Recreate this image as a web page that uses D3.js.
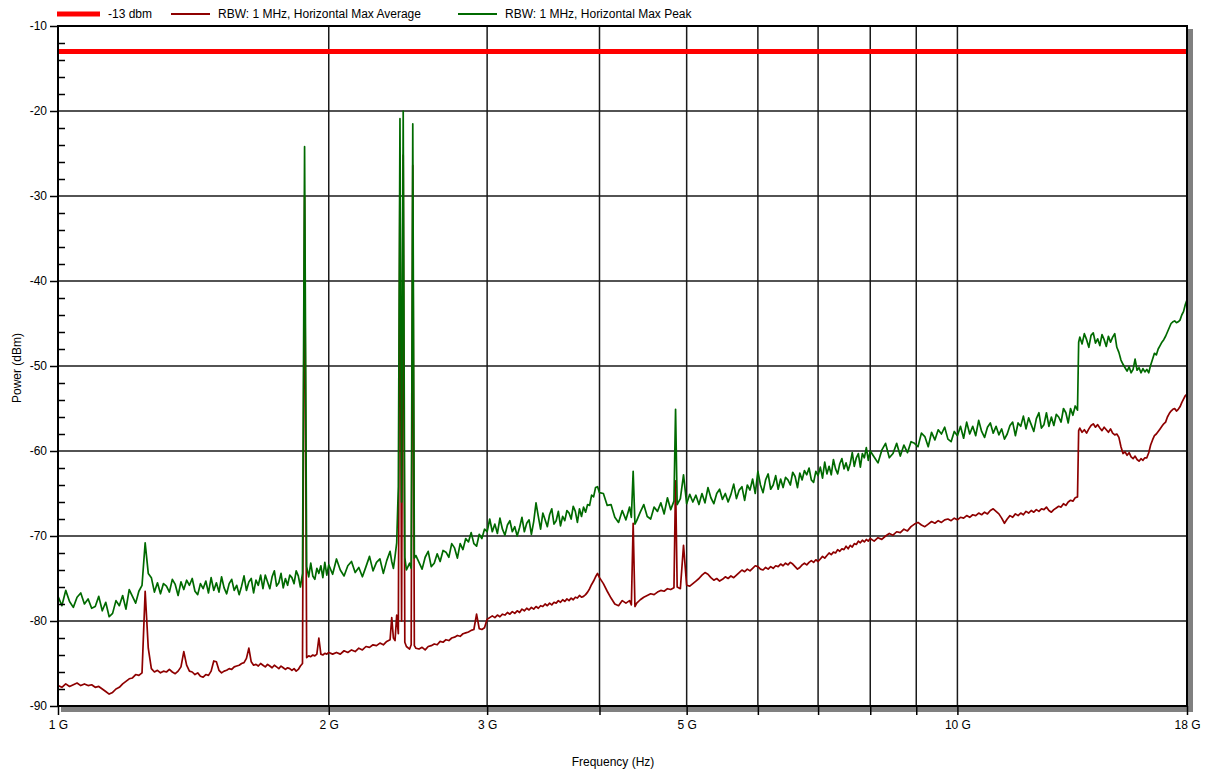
<!DOCTYPE html>
<html>
<head>
<meta charset="utf-8">
<script src="https://cdn.jsdelivr.net/npm/d3@7"></script>
<style>
  html, body { margin: 0; padding: 0; background: #fff; }
  svg { display: block; }
  text { font-family: "Liberation Sans", Arial, sans-serif; fill: #000; }
</style>
</head>
<body>
<svg id="chart" width="1206" height="773"></svg>
<script>
// Sweep frequencies (GHz) shared by both traces
const freqGHz = [
  1.00,1.01,1.02,1.03,1.04,1.05,1.06,1.07,1.08,1.09,
  1.10,1.11,1.12,1.13,1.14,1.15,1.16,1.17,1.18,1.19,
  1.20,1.21,1.22,1.23,1.24,1.25,1.26,1.27,1.28,1.29,
  1.30,1.31,1.32,1.33,1.34,1.35,1.36,1.37,1.38,1.39,
  1.40,1.41,1.42,1.43,1.44,1.45,1.46,1.47,1.48,1.49,
  1.50,1.51,1.52,1.53,1.54,1.55,1.56,1.57,1.58,1.59,
  1.60,1.61,1.62,1.63,1.64,1.65,1.66,1.67,1.68,1.69,
  1.70,1.71,1.72,1.73,1.74,1.75,1.76,1.77,1.78,1.79,
  1.80,1.81,1.82,1.83,1.84,1.85,1.86,1.87,1.88,1.89,
  1.90,1.91,1.92,1.93,1.94,1.95,1.96,1.97,1.98,1.99,
  2.00,2.02,2.04,2.06,2.08,2.10,2.12,2.14,2.16,2.18,
  2.20,2.22,2.24,2.26,2.28,2.30,2.32,2.34,2.35,2.36,
  2.37,2.38,2.39,2.40,2.41,2.42,2.43,2.44,2.46,2.47,
  2.48,2.49,2.50,2.52,2.54,2.56,2.58,2.60,2.62,2.64,
  2.66,2.68,2.70,2.72,2.74,2.76,2.78,2.80,2.82,2.84,
  2.86,2.88,2.90,2.92,2.94,2.96,2.98,3.00,3.02,3.04,
  3.06,3.08,3.10,3.12,3.14,3.16,3.18,3.20,3.22,3.24,
  3.26,3.28,3.30,3.32,3.34,3.36,3.38,3.40,3.42,3.44,
  3.46,3.48,3.50,3.52,3.54,3.56,3.58,3.60,3.62,3.64,
  3.66,3.68,3.70,3.72,3.74,3.76,3.78,3.80,3.82,3.84,
  3.86,3.88,3.90,3.92,3.94,3.96,3.98,4.00,4.04,4.08,
  4.12,4.16,4.20,4.24,4.28,4.32,4.34,4.36,4.38,4.40,
  4.44,4.48,4.52,4.56,4.60,4.64,4.68,4.72,4.76,4.80,
  4.84,4.86,4.88,4.92,4.96,5.00,5.04,5.08,5.12,5.16,
  5.20,5.24,5.28,5.32,5.36,5.40,5.44,5.48,5.52,5.56,
  5.60,5.64,5.68,5.72,5.76,5.80,5.84,5.88,5.92,5.96,
  6.00,6.04,6.08,6.12,6.16,6.20,6.24,6.28,6.32,6.36,
  6.40,6.44,6.48,6.52,6.56,6.60,6.64,6.68,6.72,6.76,
  6.80,6.84,6.88,6.92,6.96,7.00,7.04,7.08,7.12,7.16,
  7.20,7.24,7.28,7.32,7.36,7.40,7.44,7.48,7.52,7.56,
  7.60,7.64,7.68,7.72,7.76,7.80,7.84,7.88,7.92,7.96,
  8.00,8.08,8.16,8.24,8.32,8.40,8.48,8.56,8.64,8.72,
  8.80,8.88,8.96,9.04,9.12,9.20,9.28,9.36,9.44,9.52,
  9.60,9.68,9.76,9.84,9.92,10.00,10.08,10.16,10.24,10.32,
  10.40,10.48,10.56,10.64,10.72,10.80,10.88,10.96,11.04,11.12,
  11.20,11.28,11.36,11.44,11.52,11.60,11.68,11.76,11.84,11.92,
  12.00,12.08,12.16,12.24,12.32,12.40,12.48,12.56,12.64,12.72,
  12.80,12.88,12.96,13.04,13.12,13.20,13.28,13.36,13.44,13.52,
  13.60,13.64,13.68,13.76,13.84,13.92,14.00,14.08,14.16,14.24,
  14.32,14.40,14.48,14.56,14.64,14.72,14.80,14.88,14.96,15.04,
  15.12,15.20,15.28,15.36,15.44,15.52,15.60,15.68,15.76,15.84,
  15.92,16.00,16.08,16.16,16.24,16.32,16.40,16.48,16.56,16.64,
  16.72,16.80,16.88,16.96,17.04,17.12,17.20,17.28,17.36,17.44,
  17.52,17.60,17.68,17.76,17.84,17.92,18.00
];

// RBW 1 MHz, horizontal, max average (dBm)
const avgDbm = [
  -87.6,-87.8,-87.4,-87.7,-87.5,-87.3,-87.6,-87.4,-87.6,-87.5,
  -87.8,-87.7,-88.0,-88.3,-88.6,-88.4,-88.0,-87.8,-87.4,-87.1,
  -86.8,-86.7,-86.3,-86.4,-86.1,-76.5,-83.2,-85.6,-86.0,-85.8,
  -86.1,-85.9,-86.0,-85.7,-86.0,-86.2,-85.9,-85.4,-83.6,-85.2,
  -85.9,-86.0,-86.3,-86.1,-86.5,-86.6,-86.3,-86.4,-85.9,-84.7,
  -84.8,-85.8,-86.1,-85.9,-85.8,-85.6,-85.7,-85.4,-85.3,-85.2,
  -85.0,-84.9,-84.4,-83.2,-84.8,-85.2,-85.1,-85.3,-85.0,-85.2,
  -85.4,-85.1,-85.3,-85.5,-85.2,-85.4,-85.6,-85.3,-85.5,-85.7,
  -85.5,-85.6,-85.8,-85.6,-85.9,-85.7,-85.3,-85.0,-30.0,-84.3,
  -84.1,-84.2,-84.0,-84.1,-83.9,-82.0,-83.9,-84.0,-83.8,-83.9,
  -83.7,-83.9,-83.7,-83.9,-83.5,-83.7,-83.4,-83.6,-83.2,-83.4,
  -83.0,-83.1,-82.8,-82.9,-82.6,-82.8,-82.4,-82.2,-79.6,-82.0,
  -82.3,-79.3,-81.5,-26.0,-80.0,-25.2,-82.5,-83.0,-83.3,-82.8,
  -26.4,-82.9,-83.2,-83.3,-83.1,-83.4,-83.0,-82.9,-82.7,-82.8,
  -82.4,-82.5,-82.2,-82.3,-82.0,-81.9,-81.7,-81.8,-81.5,-81.4,
  -81.3,-81.1,-81.0,-79.2,-80.9,-81.0,-80.8,-79.8,-79.6,-79.4,
  -79.6,-79.3,-79.5,-79.2,-79.3,-79.0,-79.2,-78.9,-79.1,-78.8,
  -79.0,-78.6,-78.8,-78.5,-78.7,-78.4,-78.6,-78.3,-78.5,-78.2,
  -78.3,-78.0,-78.2,-77.9,-78.1,-77.8,-77.9,-77.6,-77.8,-77.5,
  -77.7,-77.4,-77.6,-77.3,-77.5,-77.2,-77.3,-77.0,-77.2,-77.1,
  -76.9,-76.6,-76.2,-75.7,-75.3,-74.8,-74.4,-74.9,-75.6,-76.5,
  -77.3,-78.0,-78.2,-77.6,-77.9,-77.6,-78.1,-68.5,-78.3,-77.9,
  -77.5,-77.2,-77.0,-76.8,-76.9,-76.6,-76.4,-76.5,-76.2,-76.3,
  -76.1,-63.5,-76.0,-76.2,-71.1,-75.8,-75.9,-75.6,-75.3,-75.0,
  -74.6,-74.3,-74.5,-74.9,-75.2,-75.0,-75.3,-75.1,-74.8,-75.0,
  -74.7,-74.9,-74.6,-74.3,-74.0,-74.2,-73.9,-74.1,-73.8,-73.5,
  -73.6,-73.9,-74.0,-73.7,-73.9,-73.6,-73.8,-73.5,-73.6,-73.3,
  -73.5,-73.2,-73.4,-73.1,-73.3,-73.6,-73.9,-73.7,-73.4,-73.2,
  -73.4,-73.1,-72.9,-73.1,-72.8,-73.0,-72.7,-72.4,-72.6,-72.3,
  -72.0,-72.2,-71.9,-72.0,-71.6,-71.8,-71.5,-71.6,-71.2,-71.5,
  -71.1,-71.3,-70.9,-71.0,-70.6,-70.8,-70.5,-70.7,-70.4,-70.6,
  -70.3,-70.6,-70.2,-70.4,-70.0,-69.7,-69.9,-69.5,-69.6,-69.2,
  -69.4,-68.9,-68.6,-68.4,-68.7,-68.9,-68.6,-68.3,-68.5,-68.2,
  -68.4,-68.1,-68.0,-68.2,-67.9,-68.1,-67.8,-67.9,-67.6,-67.8,
  -67.5,-67.6,-67.3,-67.5,-67.2,-67.4,-67.0,-66.8,-67.1,-67.4,
  -67.9,-68.5,-68.0,-67.6,-67.8,-67.4,-67.6,-67.3,-67.5,-67.1,
  -67.3,-67.0,-67.2,-66.9,-67.1,-66.8,-66.9,-66.6,-67.0,-67.2,
  -66.9,-66.7,-66.5,-66.6,-66.2,-66.4,-66.0,-65.8,-65.9,-65.5,
  -65.4,-57.6,-57.3,-57.8,-57.5,-57.9,-57.4,-57.0,-56.8,-57.2,
  -56.9,-57.3,-57.6,-57.2,-57.5,-57.8,-57.4,-57.9,-58.1,-58.0,
  -58.4,-59.5,-60.3,-60.1,-60.5,-60.2,-60.7,-60.9,-60.6,-61.0,
  -61.2,-60.9,-61.1,-60.8,-60.8,-60.2,-59.3,-58.7,-58.2,-58.0,
  -57.7,-57.4,-57.1,-56.8,-56.6,-56.0,-55.6,-55.3,-55.1,-55.0,
  -55.3,-55.1,-54.8,-54.3,-53.9,-53.5,-53.3
];

// RBW 1 MHz, horizontal, max peak (dBm)
const peakDbm = [
  -77.1,-78.2,-76.4,-77.7,-78.4,-77.2,-76.7,-78.0,-77.4,-78.5,
  -78.3,-77.1,-78.8,-77.8,-79.5,-79.1,-77.6,-78.2,-77.0,-78.6,
  -76.3,-77.1,-77.9,-76.5,-75.8,-70.8,-74.4,-74.9,-76.6,-75.5,
  -76.8,-75.6,-75.9,-76.6,-75.1,-75.7,-77.0,-75.4,-76.3,-75.2,
  -75.8,-75.0,-76.5,-76.9,-75.6,-76.2,-75.3,-76.7,-74.9,-76.4,
  -75.5,-76.6,-74.8,-76.1,-76.8,-75.6,-75.1,-76.4,-75.8,-76.9,
  -75.9,-74.7,-76.4,-75.4,-75.0,-76.7,-75.2,-75.8,-74.6,-76.2,
  -74.6,-75.4,-76.2,-74.8,-74.1,-75.9,-75.5,-74.4,-76.1,-75.0,
  -75.8,-74.6,-74.9,-75.6,-74.1,-74.7,-76.0,-74.4,-24.2,-73.6,
  -74.8,-73.2,-74.7,-75.1,-73.8,-74.4,-73.5,-74.9,-73.1,-74.6,
  -73.4,-74.5,-72.7,-74.0,-74.7,-73.5,-73.0,-74.3,-73.7,-74.8,
  -73.6,-72.4,-74.1,-73.1,-72.7,-74.4,-72.9,-71.8,-73.0,-73.8,
  -72.4,-70.8,-64.2,-20.9,-66.0,-20.0,-72.5,-74.0,-73.2,-73.8,
  -21.5,-72.6,-72.3,-73.1,-73.9,-72.5,-71.8,-73.6,-73.2,-72.1,
  -73.0,-71.7,-71.9,-72.5,-70.9,-71.4,-72.6,-70.9,-71.6,-70.3,
  -70.7,-69.6,-70.9,-71.2,-69.8,-70.3,-69.2,-69.5,-68.0,-69.5,
  -68.6,-69.7,-67.9,-69.2,-69.9,-68.7,-68.2,-69.5,-68.9,-70.0,
  -69.0,-67.8,-69.5,-68.5,-68.1,-69.8,-68.3,-66.1,-67.7,-69.2,
  -67.3,-68.1,-68.9,-67.5,-66.8,-68.6,-68.2,-67.1,-68.8,-67.7,
  -68.2,-67.0,-67.3,-68.0,-66.5,-67.1,-68.4,-66.8,-67.7,-66.6,
  -67.2,-66.3,-66.4,-65.2,-65.4,-64.3,-64.2,-64.9,-65.0,-66.4,
  -66.3,-67.8,-68.4,-67.0,-68.1,-66.6,-67.8,-62.4,-68.6,-68.2,
  -67.2,-66.3,-67.7,-68.0,-66.6,-67.1,-66.1,-67.4,-65.5,-66.9,
  -65.9,-55.1,-66.3,-65.6,-62.8,-66.2,-65.1,-66.0,-65.2,-66.3,
  -65.0,-66.1,-64.3,-65.5,-66.2,-65.0,-64.5,-65.7,-65.0,-66.0,
  -65.1,-63.9,-65.6,-64.6,-64.2,-65.8,-64.0,-64.6,-63.3,-65.0,
  -62.4,-64.0,-64.9,-63.4,-62.7,-64.5,-64.0,-62.9,-64.5,-63.3,
  -64.3,-63.1,-63.4,-64.0,-62.5,-63.0,-64.3,-62.6,-63.4,-62.3,
  -62.8,-62.0,-63.4,-63.7,-62.4,-62.9,-61.9,-63.2,-61.3,-62.7,
  -61.8,-62.8,-61.0,-62.1,-62.7,-61.5,-60.9,-62.1,-61.4,-62.3,
  -61.5,-60.2,-61.8,-60.8,-60.3,-61.9,-60.3,-60.8,-59.6,-61.1,
  -60.0,-60.7,-61.4,-59.9,-59.1,-60.8,-60.3,-59.1,-60.6,-59.3,
  -60.2,-58.9,-59.1,-59.5,-57.9,-58.3,-59.5,-57.8,-58.7,-57.5,
  -58.0,-57.2,-58.6,-58.9,-57.7,-58.2,-57.1,-58.5,-56.6,-58.0,
  -57.1,-58.2,-56.4,-57.7,-58.4,-57.2,-56.7,-57.9,-57.1,-58.1,
  -57.4,-58.6,-58.0,-57.0,-56.6,-58.2,-56.7,-57.1,-55.9,-57.4,
  -56.1,-56.9,-57.7,-56.2,-55.5,-57.3,-56.9,-55.5,-57.1,-56.0,
  -57.0,-55.7,-56.0,-56.6,-55.0,-55.5,-56.7,-55.0,-55.8,-54.7,
  -55.2,-47.2,-46.6,-47.4,-46.2,-46.9,-47.8,-46.4,-46.1,-47.3,
  -46.8,-47.6,-46.3,-46.9,-47.7,-46.5,-47.2,-46.6,-46.2,-47.8,
  -48.4,-49.3,-49.8,-50.2,-50.6,-50.1,-50.8,-50.4,-49.2,-50.5,
  -50.2,-50.8,-50.3,-50.7,-50.4,-50.8,-49.9,-49.2,-48.5,-48.7,
  -48.0,-47.6,-47.2,-46.9,-46.5,-46.0,-45.5,-45.0,-44.8,-44.7,
  -44.9,-44.8,-44.6,-44.0,-43.6,-42.8,-42.2
];

// Limit line and axis ticks
const limitDbm = -13;
const yMajorTicks = [-90, -80, -70, -60, -50, -40, -30, -20, -10];
const yMinorTicks = [-88,-86,-84,-82,-78,-76,-74,-72,-68,-66,-64,-62,-58,-56,-54,-52,
                     -48,-46,-44,-42,-38,-36,-34,-32,-28,-26,-24,-22,-18,-16,-14,-12];
const xTickValues = [1, 2, 3, 4, 5, 6, 7, 8, 9, 10, 18];
const xTickLabels = { 1: "1 G", 2: "2 G", 3: "3 G", 5: "5 G", 10: "10 G", 18: "18 G" };
const seriesNames = ["-13 dbm", "RBW: 1 MHz, Horizontal Max Average", "RBW: 1 MHz, Horizontal Max Peak"];
const seriesColors = ["#ff0000", "#8e0000", "#006a00"];

const svg = d3.select("#chart");
const plot = { left: 58, right: 1187, top: 26, bottom: 706 };

const x = d3.scaleLog().domain([1, 18]).range([plot.left, plot.right]);
const y = d3.scaleLinear().domain([-90, -10]).range([plot.bottom, plot.top]);

// drop shadow behind the plot frame
svg.append("rect")
  .attr("x", plot.left + 3).attr("y", plot.top + 3)
  .attr("width", plot.right - plot.left + 3).attr("height", plot.bottom - plot.top + 3)
  .attr("fill", "#808080");
svg.append("rect")
  .attr("x", plot.left).attr("y", plot.top)
  .attr("width", plot.right - plot.left).attr("height", plot.bottom - plot.top)
  .attr("fill", "#fff");

// grid
const grid = svg.append("g");
grid.selectAll("line.h").data(yMajorTicks.filter(d => d > -90 && d < -10)).join("line")
  .attr("x1", plot.left).attr("x2", plot.right)
  .attr("y1", d => y(d)).attr("y2", d => y(d))
  .attr("stroke", "#1a1a1a").attr("stroke-width", 1.5);
grid.selectAll("line.v").data(xTickValues.filter(d => d > 1 && d < 18)).join("line")
  .attr("y1", plot.top).attr("y2", plot.bottom)
  .attr("x1", d => x(d)).attr("x2", d => x(d))
  .attr("stroke", "#1a1a1a").attr("stroke-width", 1.5);

// traces
const avgPts = freqGHz.map((f, i) => [f, avgDbm[i]]);
const peakPts = freqGHz.map((f, i) => [f, peakDbm[i]]);
const line = d3.line().x(d => x(d[0])).y(d => y(d[1]));

svg.append("clipPath").attr("id", "plotClip").append("rect")
  .attr("x", plot.left).attr("y", plot.top)
  .attr("width", plot.right - plot.left).attr("height", plot.bottom - plot.top);

const traces = svg.append("g").attr("clip-path", "url(#plotClip)");
traces.append("path").datum(avgPts).attr("d", line)
  .attr("fill", "none").attr("stroke", seriesColors[1]).attr("stroke-width", 1.7)
  .attr("stroke-linejoin", "round");
traces.append("path").datum(peakPts).attr("d", line)
  .attr("fill", "none").attr("stroke", seriesColors[2]).attr("stroke-width", 1.7)
  .attr("stroke-linejoin", "round");

// -13 dBm limit line
svg.append("line")
  .attr("x1", plot.left).attr("x2", plot.right)
  .attr("y1", y(limitDbm)).attr("y2", y(limitDbm))
  .attr("stroke", seriesColors[0]).attr("stroke-width", 5);

// frame
svg.append("rect")
  .attr("x", plot.left).attr("y", plot.top)
  .attr("width", plot.right - plot.left).attr("height", plot.bottom - plot.top)
  .attr("fill", "none").attr("stroke", "#000").attr("stroke-width", 2);

// y axis: major ticks outside with labels, minor ticks inside
const yAxis = svg.append("g").attr("transform", `translate(${plot.left},0)`)
  .call(d3.axisLeft(y).tickValues(yMajorTicks).tickSize(8).tickPadding(3).tickFormat(d => String(d)));
yAxis.select(".domain").remove();
yAxis.selectAll("line").attr("stroke", "#000").attr("stroke-width", 1.5);
yAxis.selectAll("text").attr("font-size", 12).attr("font-family", "Liberation Sans, Arial, sans-serif").attr("fill", "#000");

const yMinor = svg.append("g").attr("transform", `translate(${plot.left},0)`)
  .call(d3.axisRight(y).tickValues(yMinorTicks).tickSize(7).tickFormat(""));
yMinor.select(".domain").remove();
yMinor.selectAll("line").attr("stroke", "#000").attr("stroke-width", 1.5);

// x axis
const xAxis = svg.append("g").attr("transform", `translate(0,${plot.bottom})`)
  .call(d3.axisBottom(x).tickValues(xTickValues).tickSize(9).tickPadding(5).tickFormat(d => xTickLabels[d] || ""));
xAxis.select(".domain").remove();
xAxis.selectAll("line").attr("stroke", "#000").attr("stroke-width", 1.5);
xAxis.selectAll("text").attr("font-size", 12).attr("font-family", "Liberation Sans, Arial, sans-serif").attr("fill", "#000");

// axis titles
svg.append("text")
  .attr("x", 613).attr("y", 766)
  .attr("text-anchor", "middle").attr("font-size", 12)
  .text("Frequency (Hz)");
svg.append("text")
  .attr("transform", "translate(21,368) rotate(-90)")
  .attr("text-anchor", "middle").attr("font-size", 12)
  .text("Power (dBm)");

// legend
const legendX = [57, 171, 458];
const legendW = [43, 39, 39];
const legendStroke = [5, 2, 2];
const legend = svg.append("g");
seriesNames.forEach((name, i) => {
  legend.append("line")
    .attr("x1", legendX[i]).attr("x2", legendX[i] + legendW[i])
    .attr("y1", 14).attr("y2", 14)
    .attr("stroke", seriesColors[i]).attr("stroke-width", legendStroke[i]);
  legend.append("text")
    .attr("x", legendX[i] + legendW[i] + 8).attr("y", 18)
    .attr("font-size", 12)
    .text(name);
});
</script>
</body>
</html>
